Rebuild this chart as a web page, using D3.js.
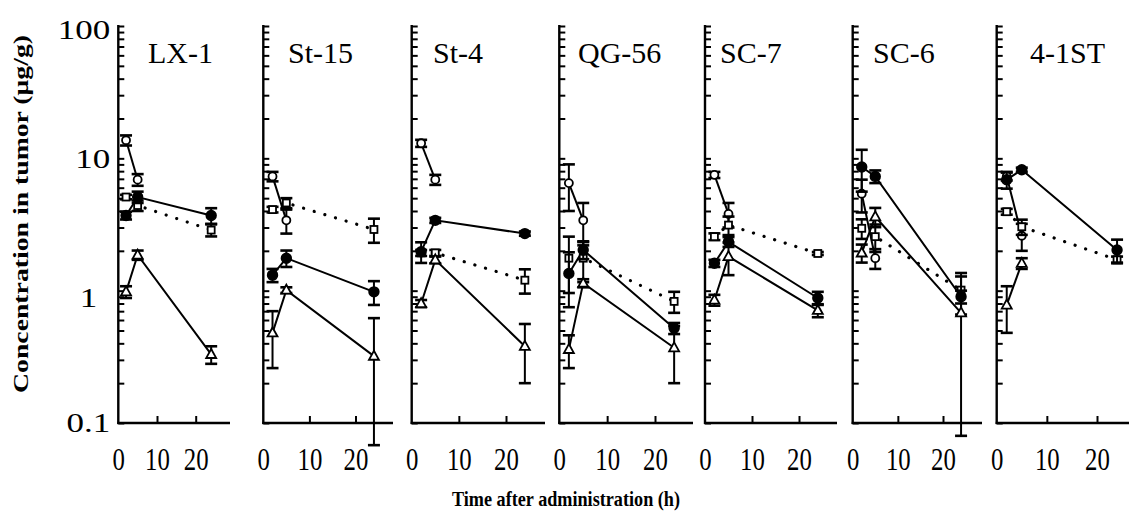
<!DOCTYPE html>
<html><head><meta charset="utf-8">
<script src="https://cdn.jsdelivr.net/npm/d3@7"></script>
<style>body{margin:0;background:#fff} svg{display:block}</style>
</head><body>
<svg id="c" width="1130" height="519"></svg>
<script>
// ---------------- data ----------------
const tumors = ["LX-1", "St-15", "St-4", "QG-56", "SC-7", "SC-6", "4-1ST"];
const times = [2, 5, 24];
const yTickLabels = [0.1, 1, 10, 100];
const xTickLabels = [0, 10, 20];

// open circle, solid line
const openCircle   = [[13.7, 6.9, null], [7.3, 3.4, null], [13.0, 6.9, null], [6.5, 3.4, null], [7.5, 3.8, null], [5.4, 1.76, null], [7.3, 2.6, null]];
const openCircleSD = [[1.2, 0.7, null], [0.6, 0.7, null], [0.8, 0.6, null], [2.5, 1.2, null], [0.4, 0.8, null], [1.5, 0.3, null], [0.5, 0.6, null]];
// filled circle, solid line
const filledCircle   = [[3.7, 5.1, 3.7], [1.31, 1.76, 0.98], [1.97, 3.4, 2.7], [1.35, 2.03, 0.52], [1.61, 2.34, 0.88], [8.6, 7.3, 0.9], [6.9, 8.2, 2.03]];
const filledCircleSD = [[0.25, 0.5, 0.5], [0.15, 0.25, 0.2], [0.35, 0.15, 0.1], [0.6, 0.3, 0.05], [0.1, 0.2, 0.1], [3.0, 0.8, 0.1], [1.0, 0.3, 0.4]];
// open square, dotted line
const openSquare   = [[5.1, 4.4, 2.87], [4.1, 4.6, 2.9], [1.93, 1.93, 1.2], [1.76, 1.76, 0.83], [2.56, 3.13, 1.91], [2.96, 2.56, 1.01], [3.95, 3.04, 1.71]];
const openSquareSD = [[0.2, 0.4, 0.3], [0.2, 0.4, 0.6], [0.1, 0.1, 0.25], [0.8, 0.6, 0.15], [0.15, 0.5, 0.05], [0.5, 0.6, 0.35], [0.2, 0.4, 0.1]];
// open triangle, solid line
const openTriangle   = [[0.98, 1.86, 0.33], [0.48, 1.01, 0.32], [0.80, 1.71, 0.38], [0.36, 1.14, 0.37], [0.85, 1.81, 0.71], [1.93, 3.62, 0.68], [0.78, 1.61, null]];
const openTriangleSD = [[0.1, 0.15, 0.05], [0.22, 0.05, 0.3], [0.05, 0.1, 0.18], [0.1, 0.08, 0.17], [0.08, 0.5, 0.08], [0.3, 0.6, 0.6], [0.3, 0.15, null]];

// ---------------- layout ----------------
const panelLayout = [
  {x0: 118.3, x20: 195.7, xEnd: 230, lx: 148},
  {x0: 263.3, x20: 355.5, xEnd: 393, lx: 288},
  {x0: 411.7, x20: 506,   xEnd: 545, lx: 433},
  {x0: 559.3, x20: 655,   xEnd: 693, lx: 578},
  {x0: 705,   x20: 799,   xEnd: 837, lx: 720},
  {x0: 852.7, x20: 943,   xEnd: 982, lx: 873},
  {x0: 996.7, x20: 1097,  xEnd: 1129, lx: 1030}
];
const yTop = 26, yBottom = 423;
const serif = "'Liberation Serif','Times New Roman',serif";

const svg = d3.select("#c");
svg.append("rect").attr("width", 1130).attr("height", 519).attr("fill", "#fff");

const y = d3.scaleLog().domain([0.1, 100]).range([yBottom, yTop]);
const lowClamp = 0.068;

const seriesDefs = [
  {vals: openCircle, sd: openCircleSD, shape: "circle", filled: false, dash: null},
  {vals: openSquare, sd: openSquareSD, shape: "square", filled: false, dash: "0.1,11"},
  {vals: openTriangle, sd: openTriangleSD, shape: "triangle", filled: false, dash: null},
  {vals: filledCircle, sd: filledCircleSD, shape: "circle", filled: true, dash: null}
];

tumors.forEach((name, p) => {
  const L = panelLayout[p];
  const x = d3.scaleLinear().domain([0, 20]).range([L.x0, L.x20]);
  const g = svg.append("g");

  // y axis (ticks inward)
  const ya = g.append("g").attr("transform", `translate(${L.x0},0)`)
    .call(d3.axisRight(y).tickValues(y.ticks()).tickSize(6).tickFormat(""));
  ya.select(".domain").remove();
  ya.selectAll(".tick line").attr("stroke", "#000").attr("stroke-width", 2);
  g.append("line").attr("x1", L.x0).attr("x2", L.x0).attr("y1", yTop - 1).attr("y2", yBottom + 1)
    .attr("stroke", "#000").attr("stroke-width", 2.4);

  // x axis
  const xa = g.append("g").attr("transform", `translate(0,${yBottom})`)
    .call(d3.axisBottom(x).tickValues(xTickLabels).tickSizeInner(-7).tickSizeOuter(0).tickPadding(25).tickFormat(d3.format("d")));
  xa.select(".domain").remove();
  xa.selectAll(".tick line").attr("stroke", "#000").attr("stroke-width", 2).filter(d => d === 0).remove();
  xa.selectAll(".tick text").attr("font-family", serif).attr("font-size", 31).attr("fill", "#000")
    .attr("transform", "scale(0.8,1)");
  g.append("line").attr("x1", L.x0 - 1).attr("x2", L.xEnd).attr("y1", yBottom).attr("y2", yBottom)
    .attr("stroke", "#000").attr("stroke-width", 2.4);

  // y tick labels only on first panel
  if (p === 0) {
    const yl = g.append("g").attr("transform", `translate(${L.x0 - 8},0)`)
      .call(d3.axisLeft(y).tickValues(yTickLabels).tickSize(0).tickPadding(0).tickFormat(d => String(d)));
    yl.select(".domain").remove();
    yl.selectAll(".tick text").attr("font-family", serif).attr("font-size", 28).attr("fill", "#000")
      .attr("transform", "scale(1.25,1)")
      .attr("dy", d => d === 1 ? "0.55em" : d === 100 ? "0.45em" : "0.32em")
      .attr("dx", d => d === 1 ? -10.4 : 0);
  }

  // panel title
  g.append("text").attr("x", L.lx).attr("y", 63).attr("font-family", serif).attr("font-size", 30)
    .attr("fill", "#000").text(name);

  // series lines
  seriesDefs.forEach(s => {
    const pts = times.map((t, i) => ({t, v: s.vals[p][i], sd: s.sd[p][i]}));
    const line = d3.line().defined(d => d.v != null).x(d => x(d.t)).y(d => y(d.v));
    g.append("path").attr("d", line(pts)).attr("fill", "none").attr("stroke", "#000")
      .attr("stroke-width", s.dash ? 3.2 : 2)
      .attr("stroke-dasharray", s.dash).attr("stroke-linecap", s.dash ? "round" : "butt");
  });
  // error bars and markers
  seriesDefs.forEach(s => {
    const pts = times.map((t, i) => ({t, v: s.vals[p][i], sd: s.sd[p][i]})).filter(d => d.v != null);
    pts.forEach(d => {
      if (d.sd == null) return;
      const hi = y(d.v + d.sd), lo = y(Math.max(d.v - d.sd, lowClamp));
      const cx = x(d.t);
      g.append("line").attr("x1", cx).attr("x2", cx).attr("y1", hi).attr("y2", lo).attr("stroke", "#000").attr("stroke-width", 2);
      [hi, lo].forEach(yy => g.append("line").attr("x1", cx - 6).attr("x2", cx + 6).attr("y1", yy).attr("y2", yy)
        .attr("stroke", "#000").attr("stroke-width", 2.6));
    });
    pts.forEach(d => {
      const cx = x(d.t), cy = y(d.v);
      if (s.shape === "circle") {
        g.append("circle").attr("cx", cx).attr("cy", cy).attr("r", s.filled ? 4.8 : 4)
          .attr("fill", s.filled ? "#000" : "#fff").attr("stroke", "#000").attr("stroke-width", 1.8);
      } else if (s.shape === "square") {
        g.append("rect").attr("x", cx - 3.5).attr("y", cy - 3.5).attr("width", 7).attr("height", 7)
          .attr("fill", "#fff").attr("stroke", "#000").attr("stroke-width", 1.8);
      } else {
        const h = 9;
        g.append("path").attr("d", `M${cx},${cy - h * 0.6}L${cx + 5},${cy + h * 0.4}L${cx - 5},${cy + h * 0.4}Z`)
          .attr("fill", "#fff").attr("stroke", "#000").attr("stroke-width", 1.8);
      }
    });
  });
});

// axis titles
svg.append("text").attr("transform", "translate(28,214) rotate(-90)").attr("text-anchor", "middle")
  .attr("font-family", serif).attr("font-weight", "bold").attr("font-size", 22)
  .attr("textLength", 358).attr("lengthAdjust", "spacingAndGlyphs")
  .attr("fill", "#000").text("Concentration in tumor (μg/g)");
svg.append("text").attr("x", 566).attr("y", 506).attr("text-anchor", "middle")
  .attr("font-family", serif).attr("font-weight", "bold").attr("font-size", 21)
  .attr("textLength", 228).attr("lengthAdjust", "spacingAndGlyphs")
  .attr("fill", "#000").text("Time after administration (h)");
</script>
</body></html>
